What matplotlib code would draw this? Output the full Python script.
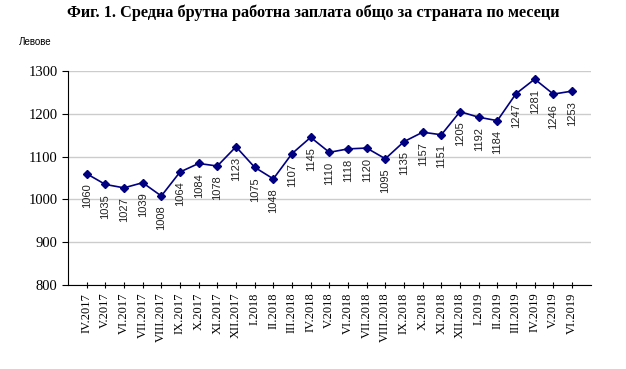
import matplotlib.pyplot as plt

months = ["IV.2017", "V.2017", "VI.2017", "VII.2017", "VIII.2017", "IX.2017",
          "X.2017", "XI.2017", "XII.2017", "I.2018", "II.2018", "III.2018",
          "IV.2018", "V.2018", "VI.2018", "VII.2018", "VIII.2018", "IX.2018",
          "X.2018", "XI.2018", "XII.2018", "I.2019", "II.2019", "III.2019",
          "IV.2019", "V.2019", "VI.2019"]
salary = [1060, 1035, 1027, 1039, 1008, 1064, 1084, 1078, 1123, 1075, 1048,
          1107, 1145, 1110, 1118, 1120, 1095, 1135, 1157, 1151, 1205, 1192,
          1184, 1247, 1281, 1246, 1253]

fig = plt.figure(figsize=(6.26, 3.69), dpi=100)
ax = fig.add_axes([0.1086, 0.2276, 0.835, 0.58])

x = list(range(len(months)))
ax.plot(x, salary, color="#000080", marker="D", markersize=4.5, linewidth=1.2)

for xi, v in zip(x, salary):
    ax.annotate(str(v), (xi, v), xytext=(0, -7), textcoords="offset points",
                rotation=90, ha="center", va="top", fontsize=8,
                family="Liberation Sans", color="#222222")

ax.set_xlim(-1, len(months))
ax.set_ylim(800, 1300)
ax.set_yticks(range(800, 1301, 100))
ax.set_xticks(x)
ax.set_xticklabels(months, rotation=90, family="Liberation Serif", fontsize=9)
for lab in ax.get_yticklabels():
    lab.set_family("Liberation Serif")
    lab.set_fontsize(10.5)
ax.yaxis.grid(True, color="#cccccc", linewidth=1)
ax.set_axisbelow(True)
ax.spines["top"].set_visible(False)
ax.spines["right"].set_visible(False)
ax.tick_params(axis="y", length=4)
ax.tick_params(axis="x", length=4, direction="inout")

fig.text(0.5, 0.965, "Фиг. 1. Средна брутна работна заплата общо за страната по месеци",
         ha="center", va="center", family="Liberation Serif", fontweight="bold",
         fontsize=11.7)
fig.text(0.03, 0.885, "Левове", ha="left", va="center", family="Liberation Sans",
         fontsize=7)

fig.savefig("out.png", dpi=100)
